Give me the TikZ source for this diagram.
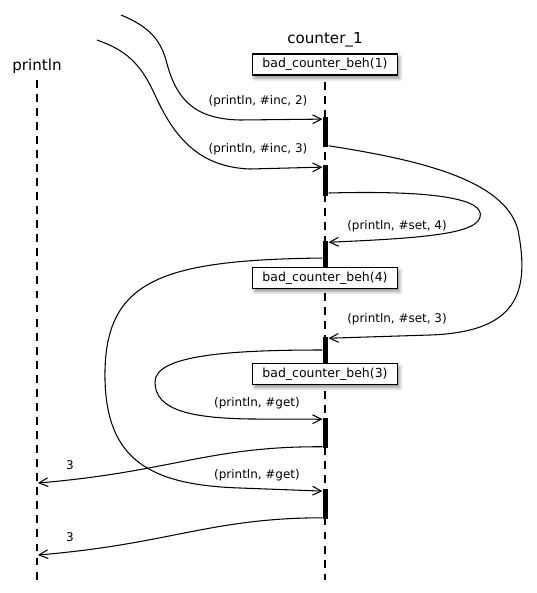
\documentclass[tikz,border=0pt]{standalone}
\usepackage{fontspec}
\setmainfont{DejaVu Sans}
\usetikzlibrary{arrows.meta,shadows.blur,positioning}
\tikzset{
  every picture/.style={line width=0.6pt},
  lifeline/.style={dash pattern=on 4.5pt off 3.5pt},
  actbar/.style={rectangle, fill=black, inner sep=0pt,
                 minimum width=0.1cm, minimum height=#1},
  actbar/.default=0.6cm,
  behbox/.style={draw, fill=white, inner sep=0pt, line width=0.6pt,
                 minimum width=2.9cm, minimum height=0.42cm,
                 font=\fontsize{7.1}{8}\selectfont,
                 blur shadow={shadow xshift=1.2pt, shadow yshift=-1.8pt,
                              shadow blur radius=2pt, shadow opacity=45}},
  actorlbl/.style={font=\fontsize{8.6}{10}\selectfont},
  msglbl/.style={font=\fontsize{6.8}{8}\selectfont},
  msg/.style={-{Straight Barb[length=5pt,width=5pt]}},
}

\begin{document}
\begin{tikzpicture}[x=0.02cm, y=-0.02cm]
  \useasboundingbox (0,0) rectangle (537,593);
  % actors
  \node[actorlbl] (pl) at (37,66) {println};
  \node[actorlbl] (ct) at (325,40) {counter\_1};
  \coordinate (plend) at (37,580);
  \coordinate (ctend) at (325,580);
  \draw[lifeline] (pl.south) -- (plend);
  \draw[lifeline] (ct.south) -- (ctend);
  % behaviours
  \node[behbox] (beh1) at (325,64.5) {bad\_counter\_beh(1)};
  \node[behbox] (beh4) at (325,278) {bad\_counter\_beh(4)};
  \node[behbox] (beh3) at (325,374) {bad\_counter\_beh(3)};
  % activations
  \node[actbar] (b1) at (325.5,132) {};
  \node[actbar=0.62cm] (b2) at (325.5,180.5) {};
  \node[actbar=0.54cm] (b3) at (325.5,254.5) {};
  \node[actbar=0.52cm] (b4) at (325.5,350) {};
  \node[actbar] (b5) at (325.5,433) {};
  \node[actbar] (b6) at (325.5,504) {};
  % free ends
  \coordinate (s1) at (121,15);
  \coordinate (s2) at (97,40);
  \coordinate (p1) at (38,483);
  \coordinate (p2) at (38,555);
  % messages
  \draw[msg] (s1) .. controls (150,27) and (160,40) .. (166,60)
        .. controls (175,95) and (190,119) .. (240,120)
        -- ([yshift=-1.5pt]b1.north west);
  \draw[msg] (s2) .. controls (125,50) and (140,62) .. (155,95)
        .. controls (172,132) and (195,167) .. (250,169)
        -- ([yshift=-1.5pt]b2.north west);
  \draw[msg] ([yshift=1pt]b1.south east) .. controls (420,160) and (505,180) .. (518,230)
        .. controls (530,292) and (518,332) .. (430,335)
        -- ([yshift=-1pt]b4.north east);
  \draw[msg] ([yshift=2pt]b2.south east) .. controls (440,190) and (485,200) .. (480,217)
        .. controls (476,233) and (430,238) .. ([yshift=-1pt]b3.north east);
  \draw[msg] ([yshift=-2pt]b3.west) .. controls (160,260) and (103,280) .. (105,380)
        .. controls (107,460) and (150,485) .. (240,488)
        -- ([yshift=-1.5pt]b6.north west);
  \draw[msg] (b4.west) .. controls (230,350) and (155,355) .. (155,382)
        .. controls (155,410) and (190,418) .. (250,419)
        -- ([yshift=-1pt]b5.north west);
  \draw[msg] ([yshift=1pt]b5.south west) .. controls (210,446) and (170,472) .. (p1);
  \draw[msg] ([yshift=1pt]b6.south west) .. controls (210,518) and (170,544) .. (p2);
  % labels
  \node[msglbl] (l1) at (258,101) {(println, \#inc, 2)};
  \node[msglbl] (l2) at (258,149) {(println, \#inc, 3)};
  \node[msglbl] (l3) at (397,226) {(println, \#set, 4)};
  \node[msglbl] (l4) at (397,319) {(println, \#set, 3)};
  \node[msglbl] (l5) at (257,403) {(println, \#get)};
  \node[msglbl] (l6) at (257,475) {(println, \#get)};
  \node[msglbl] (l7) at (70,465) {3};
  \node[msglbl] (l8) at (70,537) {3};
\end{tikzpicture}
\end{document}
